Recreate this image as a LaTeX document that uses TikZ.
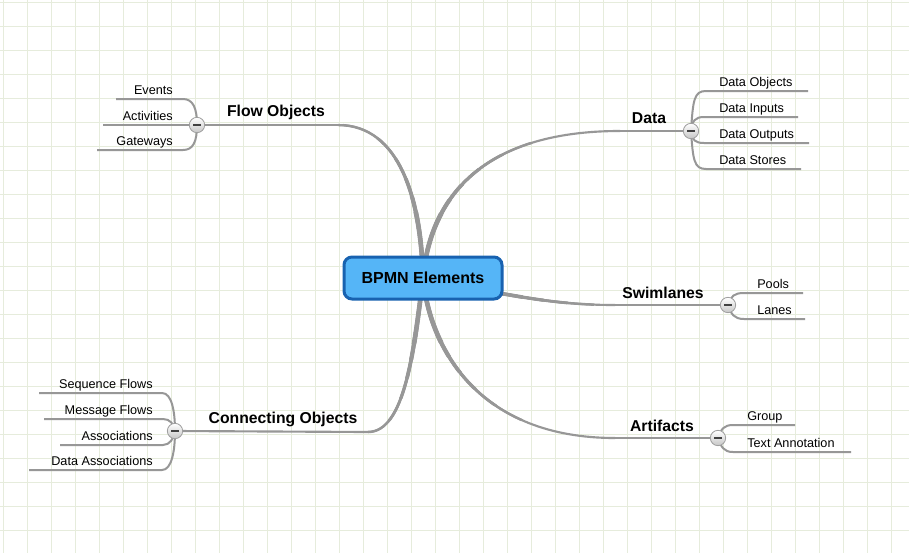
\documentclass[tikz,border=0pt]{standalone}
\usepackage{fontspec}
\setmainfont{Liberation Sans}
\usetikzlibrary{backgrounds}
\definecolor{gridc}{HTML}{E6ECDC}
\definecolor{linec}{HTML}{979797}
\definecolor{rootfill}{HTML}{55B5F7}
\definecolor{rootdraw}{HTML}{1862B0}
\begin{document}
\begin{tikzpicture}[x=0.75pt,y=-0.75pt,
  rootbox/.style={draw=rootdraw, line width=2.25pt, fill=rootfill, rounded corners=6pt,
    minimum width=118.5pt, minimum height=31.5pt, inner sep=0,
    font=\bfseries\fontsize{12}{14}\selectfont},
  topic/.style={font=\bfseries\fontsize{11.8}{14}\selectfont, inner sep=0},
  leaf/.style={font=\fontsize{9.5}{11}\selectfont, inner sep=0},
  toggle/.style={circle, draw=gray!75, top color=white, bottom color=gray!45,
    minimum size=11.5pt, inner sep=0, line width=0.6pt,
    path picture={\draw[line width=1.3pt, black!75]
      ([xshift=-2.8pt]path picture bounding box.center) --
      ([xshift=2.8pt]path picture bounding box.center);}},
  branch/.style={draw=linec, line width=1.5pt},
  mainline/.style={draw=linec, line width=1.6pt}]

% ---------- nodes ----------
\node[rootbox] (root) at (423,278) {BPMN Elements};

\node[topic] (fo) at (276,112) {Flow Objects};
\node[topic] (da) at (649,118) {Data};
\node[topic] (sw) at (663,293) {Swimlanes};
\node[topic] (ar) at (662,426) {Artifacts};
\node[topic] (co) at (283,419) {Connecting Objects};

\node[toggle] (tf) at (197,125) {};
\node[toggle] (td) at (691,131) {};
\node[toggle] (ts) at (728,305) {};
\node[toggle] (ta) at (718,438) {};
\node[toggle] (tc) at (175,431) {};

% leaves
\node[leaf, anchor=base east] (ev) at (173,94.5) {Events};
\node[leaf, anchor=base east] (ac) at (173,120.5) {Activities};
\node[leaf, anchor=base east] (gw) at (173,145.5) {Gateways};

\node[leaf, anchor=base west] (dob) at (719,86.5) {Data Objects};
\node[leaf, anchor=base west] (din) at (719,112.5) {Data Inputs};
\node[leaf, anchor=base west] (dou) at (719,138.5) {Data Outputs};
\node[leaf, anchor=base west] (dst) at (719,164.5) {Data Stores};

\node[leaf, anchor=base west] (po) at (757,288.5) {Pools};
\node[leaf, anchor=base west] (la) at (757,314.5) {Lanes};

\node[leaf, anchor=base west] (gr) at (747,420.5) {Group};
\node[leaf, anchor=base west] (ta2) at (747,447.5) {Text Annotation};

\node[leaf, anchor=base east] (sq) at (153,388.5) {Sequence Flows};
\node[leaf, anchor=base east] (mf) at (153,414.5) {Message Flows};
\node[leaf, anchor=base east] (as) at (153,440.5) {Associations};
\node[leaf, anchor=base east] (das) at (153,465.5) {Data Associations};

% ---------- coordinates ----------
\coordinate (fo-s) at (338,125); \coordinate (fo-c1) at (400,125); \coordinate (fo-c2) at (421,200);
\coordinate (da-s) at (620,131); \coordinate (da-c1) at (480,131); \coordinate (da-c2) at (430,200);
\coordinate (sw-s) at (615,305); \coordinate (sw-c1) at (560,305); \coordinate (sw-c2) at (520,298);
\coordinate (ar-s) at (615,438); \coordinate (ar-c1) at (480,438); \coordinate (ar-c2) at (430,350);
\coordinate (co-s) at (368,432); \coordinate (co-c1) at (405,432); \coordinate (co-c2) at (414,350);

\coordinate (ev-l) at (116,99);
\coordinate (ac-l) at (103,125);
\coordinate (gw-l) at (97,150);
\coordinate (dob-r) at (808,91);
\coordinate (din-r) at (798,117);
\coordinate (dou-r) at (809,143);
\coordinate (dst-r) at (801,169);
\coordinate (po-r) at (803,293);
\coordinate (la-r) at (805,319);
\coordinate (gr-r) at (795,425);
\coordinate (ta2-r) at (851,452);
\coordinate (sq-l) at (39,393);
\coordinate (mf-l) at (44,419);
\coordinate (as-l) at (60,445);
\coordinate (das-l) at (29,470);

\begin{scope}[on background layer]
  \fill[white] (0,0) rectangle (909,553);
  \useasboundingbox (0,0) rectangle (909,553);
  \foreach \x in {3,27,...,907} \draw[gridc, line width=0.75pt] (\x,0) -- (\x,553);
  \foreach \y in {2,26,...,553} \draw[gridc, line width=0.75pt] (0,\y) -- (909,\y);

  % main tapered curves
  \foreach \r/\w in {2000/1.6pt, 130/1.85pt, 110/2.1pt, 92/2.4pt, 76/2.75pt, 62/3.1pt, 50/3.5pt}{
    \begin{scope}
      \clip (root.center) circle[radius=\r pt];
      \foreach \s in {fo,da,sw,ar,co}
        \draw[linec, line width=\w] (\s-s) .. controls (\s-c1) and (\s-c2) .. (root.center);
    \end{scope}
  }
  % main horizontals
  \draw[mainline] (tf.center) -- (fo-s);
  \draw[mainline] (td.center) -- (da-s);
  \draw[mainline] (ts.center) -- (sw-s);
  \draw[mainline] (ta.center) -- (ar-s);
  \draw[mainline] (tc.center) -- (co-s);

  % flow objects children
  \draw[branch] (ev-l) -- (183,99) .. controls (193,99) and (197,108) .. (tf.center);
  \draw[branch] (ac-l) -- (tf.center);
  \draw[branch] (gw-l) -- (183,150) .. controls (193,150) and (197,142) .. (tf.center);

  % data children
  \draw[branch] (td.center) .. controls (693,100) and (694,91) .. (706,91) -- (dob-r);
  \draw[branch] (td.center) .. controls (692,121) and (695,117) .. (704,117) -- (din-r);
  \draw[branch] (td.center) .. controls (692,140) and (695,143) .. (704,143) -- (dou-r);
  \draw[branch] (td.center) .. controls (693,160) and (694,169) .. (706,169) -- (dst-r);

  % swimlanes children
  \draw[branch] (ts.center) .. controls (731,296) and (734,293) .. (744,293) -- (po-r);
  \draw[branch] (ts.center) .. controls (731,314) and (734,319) .. (744,319) -- (la-r);

  % artifacts children
  \draw[branch] (ta.center) .. controls (721,429) and (724,425) .. (733,425) -- (gr-r);
  \draw[branch] (ta.center) .. controls (721,447) and (724,452) .. (733,452) -- (ta2-r);

  % connecting objects children
  \draw[branch] (sq-l) -- (162,393) .. controls (172,393) and (175,412) .. (tc.center);
  \draw[branch] (mf-l) -- (163,419) .. controls (170,419) and (174,424) .. (tc.center);
  \draw[branch] (as-l) -- (163,445) .. controls (170,445) and (174,438) .. (tc.center);
  \draw[branch] (das-l) -- (162,470) .. controls (172,470) and (175,450) .. (tc.center);
\end{scope}
\end{tikzpicture}
\end{document}
